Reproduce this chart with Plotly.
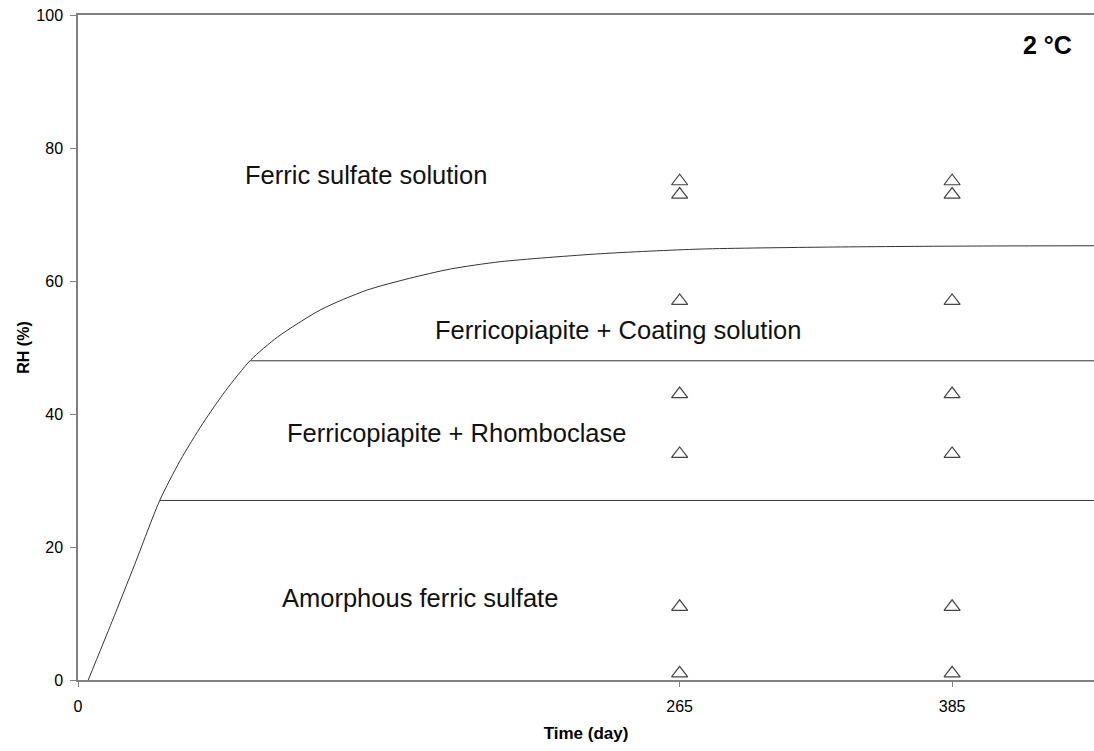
import plotly.graph_objects as go

curve_days = [4.5, 15, 25, 36, 45, 55, 65, 76, 88, 107, 127, 146, 164, 186, 230, 274, 330, 390, 448]
curve_rh = [0, 8.8, 17.4, 27, 33.0, 38.6, 43.5, 48.1, 51.6, 55.7, 58.6, 60.4, 61.8, 62.9, 64.1, 64.8, 65.1, 65.25, 65.3]

line48_days = [76, 448]
line48_rh = [48, 48]
line27_days = [36, 448]
line27_rh = [27, 27]

sample_days = [265] * 7 + [385] * 7
sample_rh = [75, 73, 57, 43, 34, 11, 1] * 2

labels = ["Ferric sulfate solution", "Ferricopiapite + Coating solution",
          "Ferricopiapite + Rhomboclase", "Amorphous ferric sulfate"]
label_x = [126.7, 237.9, 166.6, 150.5]
label_y = [76, 52.6, 37.1, 12.4]

fig = go.Figure()
fig.add_trace(go.Scatter(x=curve_days, y=curve_rh, mode="lines",
                         line=dict(color="#333333", width=1, shape="spline", smoothing=0.7),
                         showlegend=False, hoverinfo="skip"))
for xs, ys in [(line48_days, line48_rh), (line27_days, line27_rh)]:
    fig.add_trace(go.Scatter(x=xs, y=ys, mode="lines",
                             line=dict(color="#333333", width=1),
                             showlegend=False, hoverinfo="skip"))
fig.add_trace(go.Scatter(x=sample_days, y=sample_rh, mode="markers",
                         marker=dict(symbol="triangle-up-open", size=14,
                                     color="#444444", line=dict(width=1.2)),
                         showlegend=False))

for t, x, y in zip(labels, label_x, label_y):
    fig.add_annotation(x=x, y=y, text=t, showarrow=False,
                       font=dict(size=25.5, color="#111111", family="Liberation Sans, Arial"))
fig.add_annotation(x=426.8, y=95.5, text="<b>2 °C</b>", showarrow=False,
                   font=dict(size=25, color="#000000", family="Liberation Sans, Arial"))

fig.update_layout(
    width=1094, height=751,
    margin=dict(l=78, r=0, t=15, b=71),
    plot_bgcolor="white", paper_bgcolor="white",
    font=dict(family="Liberation Sans, Arial", color="#000000", size=16),
    xaxis=dict(range=[0, 447.5], tickvals=[0, 265, 385], ticktext=["0", "265", "385"],
               showgrid=False, zeroline=False, showline=True, linecolor="#808080",
               linewidth=1.5, mirror=True, ticks="outside", ticklen=5, tickcolor="#808080",
               ticklabelstandoff=6,
               title=dict(text="<b>Time (day)</b>", font=dict(size=17), standoff=13)),
    yaxis=dict(range=[0, 100], tickvals=[0, 20, 40, 60, 80, 100],
               showgrid=False, zeroline=False, showline=True, linecolor="#808080",
               linewidth=1.5, ticks="outside", ticklen=6, tickcolor="#808080",
               ticklabelstandoff=4,
               title=dict(text="<b>RH (%)</b>", font=dict(size=16), standoff=3)),
)
fig.write_html("out.html")
